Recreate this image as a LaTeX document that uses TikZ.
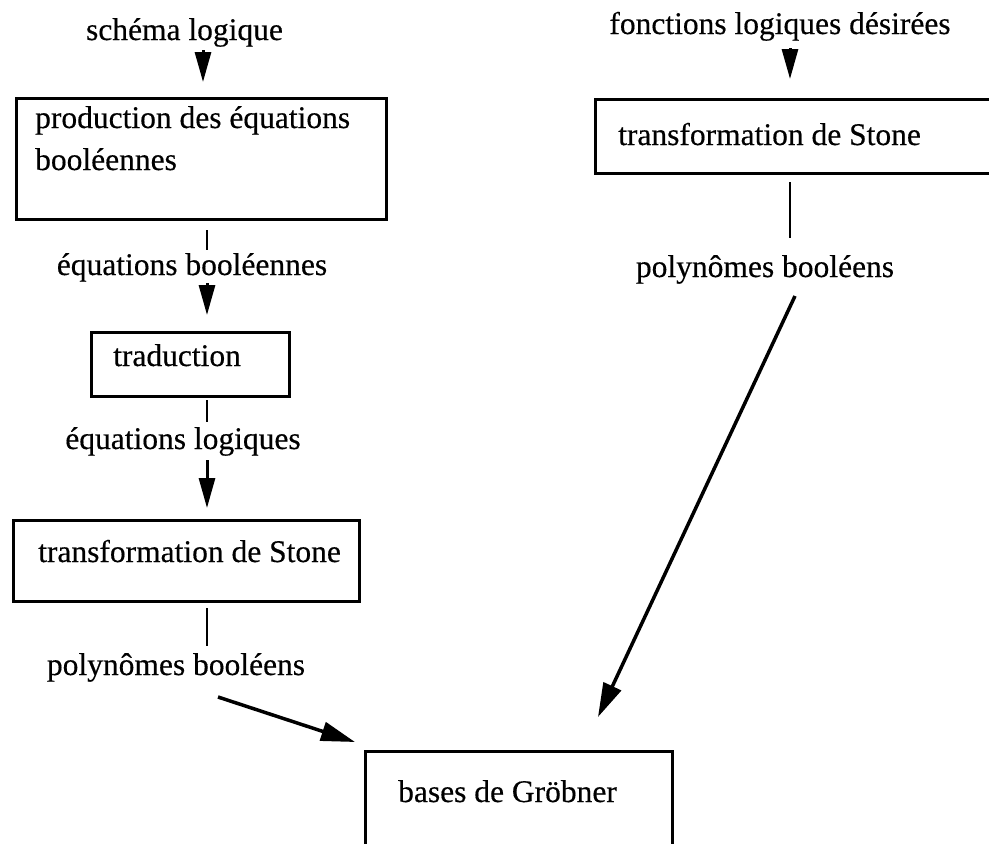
\documentclass[tikz,border=0pt]{standalone}
\usepackage{fontspec}
\setmainfont{Liberation Serif}[BoldFont={Liberation Serif},BoldFeatures={FakeBold=0.4}]
\usetikzlibrary{arrows.meta}
\begin{document}
\begin{tikzpicture}[x=1pt,y=-1pt,
  every node/.style={font=\fontsize{31.5}{33}\selectfont\bfseries, inner sep=0pt},
  boxframe/.style={draw, line width=3pt, anchor=north west, inner sep=0pt},
  txt/.style={anchor=base west},
  lbl/.style={anchor=base},
  stem/.style={line width=2.5pt},
  tip/.style={line width=3pt, -{Triangle[length=30pt,width=16pt]}},
  bigtip/.style={line width=3.5pt, -{Triangle[length=34pt,width=19pt]}}]
\useasboundingbox (0,0) rectangle (989,844);
\clip (0,0) rectangle (989,844);

% boxes
\node[boxframe, minimum width=370pt, minimum height=121pt] (prod)   at (15,97)  {};
\node[boxframe, minimum width=198pt, minimum height=64pt]  (trad)   at (90,331) {};
\node[boxframe, minimum width=346pt, minimum height=81pt]  (stoneL) at (12,519) {};
\node[boxframe, minimum width=410pt, minimum height=74pt]  (stoneR) at (594,98) {};
\node[boxframe, minimum width=307pt, minimum height=150pt] (grob)   at (364,750) {};

% box texts
\node[txt] (prodA)  at (35,128)  {production des équations};
\node[txt] (prodB)  at (35,170)  {booléennes};
\node[txt] (tradT)  at (113,366) {traduction};
\node[txt] (stoneLT) at (38,562) {transformation de Stone};
\node[txt] (stoneRT) at (618,145) {transformation de Stone};
\node[txt] (grobT)  at (398,802) {bases de Gröbner};

% flow labels
\node[lbl] (schema) at (184.5,40) {schéma logique};
\node[lbl] (fonct)  at (780,34)   {fonctions logiques désirées};
\node[lbl] (eqb)    at (192,275)  {équations booléennes};
\node[lbl] (eql)    at (183,449)  {équations logiques};
\node[lbl] (polyL)  at (176,675)  {polynômes booléens};
\node[lbl] (polyR)  at (765,277)  {polynômes booléens};

% connector ends
\coordinate (a1s) at (203,50);  \coordinate (a1e) at (203,82);
\coordinate (s1s) at (207,230); \coordinate (s1e) at (207,250);
\coordinate (a2s) at (207,283); \coordinate (a2e) at (207,315);
\coordinate (s2s) at (207,400); \coordinate (s2e) at (207,422);
\coordinate (a3s) at (207,460); \coordinate (a3e) at (207,508);
\coordinate (s3s) at (207,608); \coordinate (s3e) at (207,646);
\coordinate (d1s) at (218,697); \coordinate (d1e) at (355,742);
\coordinate (aRs) at (790,48);  \coordinate (aRe) at (790,79);
\coordinate (sRs) at (790,182); \coordinate (sRe) at (790,238);
\coordinate (d2s) at (795,296); \coordinate (d2e) at (598,717);

% left column
\draw[tip]  (a1s) -- (a1e);
\draw[stem] (s1s) -- (s1e);
\draw[tip]  (a2s) -- (a2e);
\draw[stem] (s2s) -- (s2e);
\draw[tip]  (a3s) -- (a3e);
\draw[stem] (s3s) -- (s3e);
\draw[bigtip] (d1s) -- (d1e);

% right column
\draw[tip]  (aRs) -- (aRe);
\draw[stem] (sRs) -- (sRe);
\draw[bigtip] (d2s) -- (d2e);
\end{tikzpicture}
\end{document}
